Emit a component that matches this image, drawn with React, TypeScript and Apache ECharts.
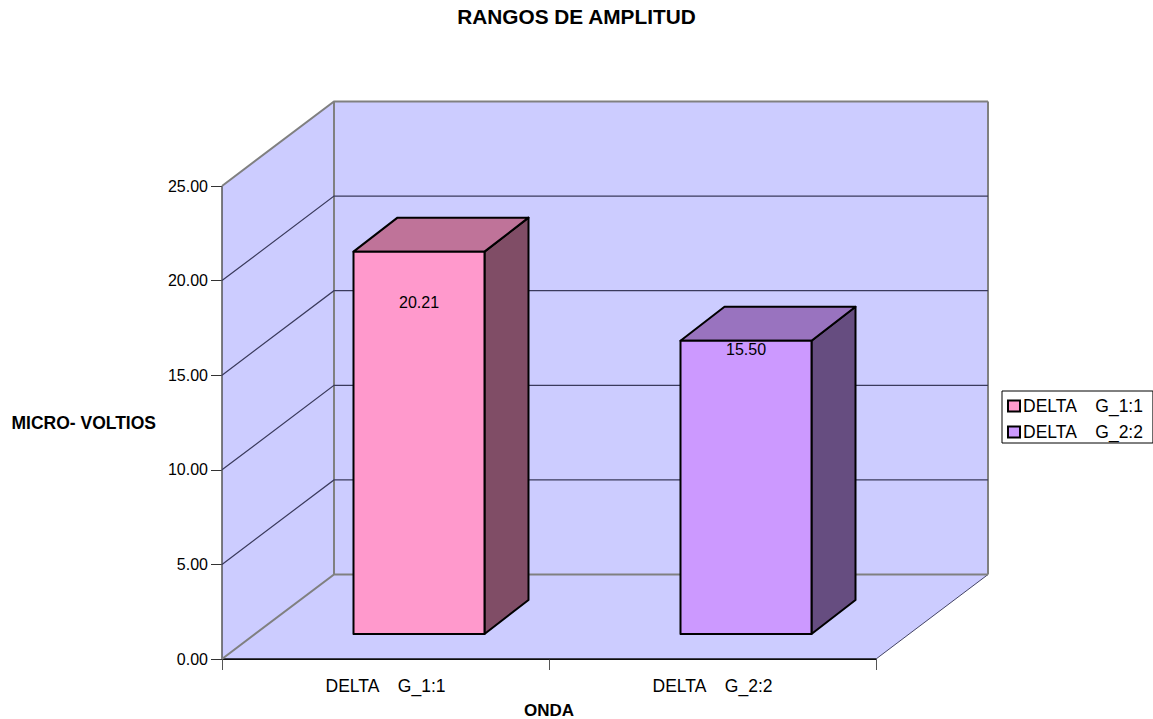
import React, { useEffect, useRef } from "react";
import * as echarts from "echarts";

const categories = ["DELTA    G_1:1", "DELTA    G_2:2"];
const amplitudes = [20.21, 15.5];
const valueLabels = ["20.21", "15.50"];
const labelDrops = [51, 9];
const frontColors = ["#FF99CC", "#CC99FF"];
const topColors = ["#BF7399", "#9973BF"];
const sideColors = ["#804D66", "#664D80"];
const gridValues = [0, 5, 10, 15, 20, 25];

const WALL_DX = 112;
const WALL_DY = -84.5;
const BAR_DX = 33.5;
const BAR_DY = -25;
const BAR_DEPTH_X = 44;
const BAR_DEPTH_Y = -34;
const BAR_WIDTH = 131;
const FONT = '"Liberation Sans", Arial, sans-serif';

// Left and right ends of the category band, read from the first and last category centres.
const plotEnds = (api: any) => {
  const band = api.size([1, 0])[0];
  return [api.coord([0, 0])[0] - band / 2, api.coord([categories.length - 1, 0])[0] + band / 2];
};

// Back wall, side wall and floor of the 3D box, with the front edges of the box on top.
const renderWalls = (_: any, api: any) => {
  const [xl, xr] = plotEnds(api);
  const yb = api.coord([0, 0])[1];
  const yt = api.coord([0, 25])[1];
  const wall = "#CCCCFF";
  const poly = (points: number[][]) => ({
    type: "polygon",
    shape: { points },
    style: { fill: wall, stroke: "none" },
  });
  const edge = (x1: number, y1: number, x2: number, y2: number, stroke: string, lineWidth: number) => ({
    type: "line",
    shape: { x1, y1, x2, y2 },
    style: { stroke, lineWidth },
  });
  return {
    type: "group",
    children: [
      poly([[xl + WALL_DX, yt + WALL_DY], [xr + WALL_DX, yt + WALL_DY], [xr + WALL_DX, yb + WALL_DY], [xl + WALL_DX, yb + WALL_DY]]),
      poly([[xl, yt], [xl + WALL_DX, yt + WALL_DY], [xl + WALL_DX, yb + WALL_DY], [xl, yb]]),
      poly([[xl, yb], [xl + WALL_DX, yb + WALL_DY], [xr + WALL_DX, yb + WALL_DY], [xr, yb]]),
      edge(xr, yb, xr + WALL_DX, yb + WALL_DY, "#444466", 1),
      edge(xl + WALL_DX, yt + WALL_DY, xl + WALL_DX, yb + WALL_DY, "#808080", 2),
      edge(xr + WALL_DX, yt + WALL_DY, xr + WALL_DX, yb + WALL_DY, "#808080", 2),
      edge(xl, yt, xl, yb, "#555555", 1.5),
      edge(xl, yb, xr, yb, "#111111", 1.5),
    ],
  };
};

// One gridline folded across the side wall and the back wall.
const renderGridLine = (_: any, api: any) => {
  const v = api.value(0);
  const [xl, xr] = plotEnds(api);
  const y = api.coord([0, v])[1];
  const outer = v === 0 || v === 25;
  return {
    type: "polyline",
    shape: { points: [[xl, y], [xl + WALL_DX, y + WALL_DY], [xr + WALL_DX, y + WALL_DY]] },
    style: { fill: "none", stroke: outer ? "#808080" : "#3A3A5C", lineWidth: outer ? 2 : 1.2 },
  };
};

// A box standing on the floor: front, top and side faces plus the value text.
const renderBar = (_: any, api: any) => {
  const idx = api.value(0);
  const [cx, yTop] = api.coord([idx, api.value(1)]);
  const [, yBase] = api.coord([idx, 0]);
  const x0 = cx + BAR_DX - BAR_WIDTH / 2;
  const x1 = x0 + BAR_WIDTH;
  const y0 = yTop + BAR_DY;
  const y1 = yBase + BAR_DY;
  const edge = { stroke: "#000", lineWidth: 2, lineJoin: "round" };
  return {
    type: "group",
    children: [
      {
        type: "polygon",
        shape: { points: [[x1, y0], [x1 + BAR_DEPTH_X, y0 + BAR_DEPTH_Y], [x1 + BAR_DEPTH_X, y1 + BAR_DEPTH_Y], [x1, y1]] },
        style: { fill: sideColors[idx], ...edge },
      },
      {
        type: "polygon",
        shape: { points: [[x0, y0], [x0 + BAR_DEPTH_X, y0 + BAR_DEPTH_Y], [x1 + BAR_DEPTH_X, y0 + BAR_DEPTH_Y], [x1, y0]] },
        style: { fill: topColors[idx], ...edge },
      },
      {
        type: "rect",
        shape: { x: x0, y: y0, width: BAR_WIDTH, height: y1 - y0 },
        style: { fill: frontColors[idx], ...edge },
      },
      {
        type: "text",
        x: (x0 + x1) / 2,
        y: y0 + labelDrops[idx],
        style: {
          text: valueLabels[idx],
          fill: "#000",
          font: `16px ${FONT}`,
          align: "center",
          verticalAlign: "middle",
        },
      },
    ],
  };
};

export default function App() {
  const ref = useRef<HTMLDivElement>(null);

  useEffect(() => {
    const chart = echarts.init(ref.current!, undefined, { renderer: "svg" });
    chart.setOption({
      animation: false,
      backgroundColor: "#fff",
      textStyle: { fontFamily: FONT },
      title: {
        text: "RANGOS DE AMPLITUD",
        left: 571.5,
        top: 1,
        textAlign: "center",
        textStyle: { fontFamily: FONT, fontSize: 20.8, fontWeight: "bold", color: "#000" },
      },
      grid: { left: 222, top: 186, width: 654, height: 473, outerBoundsMode: "none" },
      xAxis: {
        type: "category",
        data: categories,
        name: "ONDA",
        nameLocation: "middle",
        nameGap: 43,
        nameTextStyle: { fontFamily: FONT, fontSize: 17, fontWeight: "bold", color: "#000" },
        axisLine: { lineStyle: { color: "#000", width: 1 } },
        axisTick: { show: true, alignWithLabel: false, length: 11, lineStyle: { color: "#555" } },
        axisLabel: { fontFamily: FONT, fontSize: 17.5, color: "#000", margin: 18 },
      },
      yAxis: {
        type: "value",
        min: 0,
        max: 25,
        interval: 5,
        name: "MICRO- VOLTIOS",
        nameLocation: "middle",
        nameRotate: 0,
        nameGap: 66,
        nameTextStyle: { fontFamily: FONT, fontSize: 17.5, fontWeight: "bold", color: "#000" },
        axisLine: { show: true, lineStyle: { color: "#555", width: 1 } },
        axisTick: { show: true, length: 11, lineStyle: { color: "#333" } },
        axisLabel: {
          fontFamily: FONT,
          fontSize: 16,
          color: "#000",
          margin: 14,
          formatter: (v: number) => v.toFixed(2),
        },
        splitLine: { show: false },
      },
      legend: {
        orient: "vertical",
        left: 1002,
        top: 391,
        padding: [6, 9, 2, 5],
        itemGap: 8,
        itemWidth: 12,
        itemHeight: 11,
        icon: "rect",
        borderColor: "#000",
        borderWidth: 1,
        textStyle: { fontFamily: FONT, fontSize: 17.5, color: "#000", padding: [0, 0, 0, -2] },
        data: categories.map((name, i) => ({
          name,
          itemStyle: { color: frontColors[i], borderColor: "#000", borderWidth: 2 },
        })),
      },
      series: [
        { type: "custom", silent: true, z: 1, clip: false, renderItem: renderWalls, data: [[0]] },
        { type: "custom", silent: true, z: 2, clip: false, renderItem: renderGridLine, data: gridValues.map((v) => [v]) },
        ...categories.map((name, i) => ({
          type: "custom",
          name,
          z: 3,
          clip: false,
          renderItem: renderBar,
          itemStyle: { color: frontColors[i] },
          encode: { x: 0, y: 1 },
          data: [[i, amplitudes[i]]],
        })),
      ],
    });
    return () => chart.dispose();
  }, []);

  return <div ref={ref} style={{ position: "absolute", left: 0, top: 0, width: 1153, height: 719 }} />;
}
